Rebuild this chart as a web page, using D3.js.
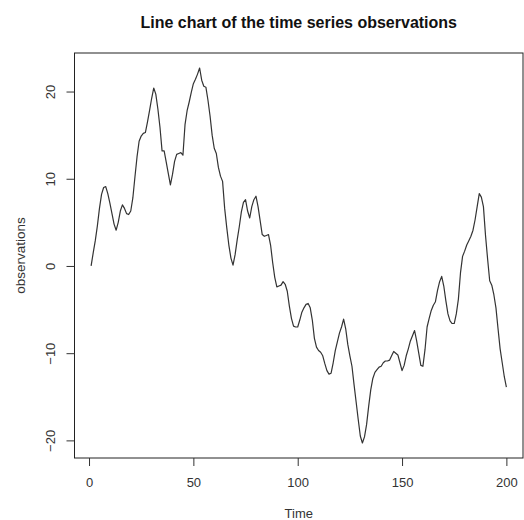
<!DOCTYPE html>
<html lang="en">

<head>
  <meta charset="utf-8">
  <title>Line chart of the time series observations</title>
  <script type="text/javascript" src="https://cdn.jsdelivr.net/npm/d3@7"></script>
  <style type="text/css">
    body { margin: 0; background: #fff; }
    text { font-family: "Liberation Sans", Arial, sans-serif; }
  </style>
</head>

<body>
  <script type="text/javascript">
    // Observations, t = 1..200
    const observations = [
      0.0, 1.5, 2.9, 4.6, 6.6, 8.2, 9.0, 9.1, 8.3, 7.2,
      6.0, 4.8, 4.1, 5.0, 6.3, 7.0, 6.6, 6.0, 5.9, 6.3,
      7.8, 10.2, 12.5, 14.3, 14.9, 15.2, 15.3, 16.5, 17.8, 19.2,
      20.4, 19.7, 18.0, 15.9, 13.2, 13.2, 11.9, 10.6, 9.3, 10.5,
      12.0, 12.8, 12.9, 13.0, 12.7, 16.2, 17.8, 18.8, 19.9, 20.9,
      21.4, 22.0, 22.7, 21.3, 20.6, 20.5, 19.0, 17.2, 15.0, 13.5,
      12.9, 11.3, 10.3, 9.7, 6.6, 4.4, 2.4, 0.9, 0.1, 1.3,
      3.0, 4.5, 6.2, 7.3, 7.6, 6.3, 5.5, 6.8, 7.6, 8.0,
      6.8, 5.2, 3.6, 3.4, 3.5, 3.6, 2.4, 0.4, -1.3, -2.4,
      -2.3, -2.2, -1.8, -2.1, -2.9, -4.6, -6.0, -6.9, -7.0, -7.0,
      -6.2, -5.3, -4.8, -4.4, -4.3, -4.8, -6.2, -8.3, -9.3, -9.7,
      -9.9, -10.3, -11.2, -12.0, -12.4, -12.3, -11.1, -9.7, -8.7, -7.7,
      -7.0, -6.1, -7.2, -9.0, -10.3, -11.5, -13.6, -15.6, -17.6, -19.5,
      -20.3, -19.6, -18.2, -16.1, -14.2, -12.9, -12.2, -11.9, -11.6, -11.5,
      -11.1, -10.9, -10.9, -10.8, -10.3, -9.8, -10.0, -10.2, -11.1, -12.0,
      -11.4, -10.3, -9.5, -8.6, -8.0, -7.4, -8.6, -10.0, -11.4, -11.5,
      -9.6, -7.0, -6.0, -5.1, -4.5, -4.1, -2.8, -1.8, -1.2, -2.3,
      -4.0, -5.5, -6.3, -6.6, -6.6, -5.5, -3.8, -0.8, 1.1, 1.7,
      2.4, 2.9, 3.4, 4.1, 5.3, 6.8, 8.3, 7.9, 6.8, 3.5,
      0.8, -1.7, -2.2, -3.3, -4.8, -7.2, -9.5, -11.1, -12.7, -13.9
    ];
    const xTicks = [0, 50, 100, 150, 200];
    const yTicks = [-20, -10, 0, 10, 20];

    const w = 524;
    const h = 520;

    // plot region (like R's par mar)
    const plotLeft = 74.5, plotRight = 523, plotTop = 53, plotBottom = 458;

    const data = observations.map(function (v, i) {
      return {t: i + 1, v: v};
    });

    // R pads the data range by 4% on each side
    const tExt = d3.extent(data, d => d.t);
    const vExt = d3.extent(data, d => d.v);
    const tPad = (tExt[1] - tExt[0]) * 0.04;
    const vPad = (vExt[1] - vExt[0]) * 0.04;

    const xScale = d3.scaleLinear()
      .domain([tExt[0] - tPad, tExt[1] + tPad])
      .range([plotLeft, plotRight]);

    const yScale = d3.scaleLinear()
      .domain([vExt[0] - vPad, vExt[1] + vPad])
      .range([plotBottom, plotTop]);

    const svg = d3.select("body")
      .append("svg")
      .attr("width", w)
      .attr("height", h);

    // the line
    const line = d3.line()
      .x(d => xScale(d.t))
      .y(d => yScale(d.v));

    svg.append("path")
      .datum(data)
      .attr("d", line)
      .attr("fill", "none")
      .attr("stroke", "#333")
      .attr("stroke-width", 1.2)
      .attr("stroke-linejoin", "round");

    // box round the plot
    svg.append("rect")
      .attr("x", plotLeft)
      .attr("y", plotTop)
      .attr("width", plotRight - plotLeft)
      .attr("height", plotBottom - plotTop)
      .attr("fill", "none")
      .attr("stroke", "#222")
      .attr("stroke-width", 1);

    // x axis
    const xAxis = svg.append("g")
      .attr("transform", "translate(0," + plotBottom + ")")
      .call(d3.axisBottom(xScale).tickValues(xTicks).tickSize(8).tickSizeOuter(0).tickPadding(12));
    xAxis.select(".domain").remove();
    xAxis.selectAll("line").attr("stroke", "#333");
    xAxis.selectAll("text")
      .attr("font-size", 13)
      .attr("font-family", "Liberation Sans, Arial, sans-serif")
      .attr("fill", "#333");

    // y axis, labels turned like R does
    const yAxis = svg.append("g")
      .attr("transform", "translate(" + plotLeft + ",0)")
      .call(d3.axisLeft(yScale).tickValues(yTicks).tickSize(8).tickSizeOuter(0));
    yAxis.select(".domain").remove();
    yAxis.selectAll("line").attr("stroke", "#333");
    yAxis.selectAll("text")
      .attr("x", null)
      .attr("dy", null)
      .attr("text-anchor", "middle")
      .attr("transform", "translate(-20,0) rotate(-90)")
      .attr("font-size", 13)
      .attr("font-family", "Liberation Sans, Arial, sans-serif")
      .attr("fill", "#333");

    // title and axis titles
    svg.append("text")
      .attr("x", (plotLeft + plotRight) / 2)
      .attr("y", 27.5)
      .attr("text-anchor", "middle")
      .attr("font-size", 16)
      .attr("font-weight", "bold")
      .attr("fill", "#111")
      .text("Line chart of the time series observations");

    svg.append("text")
      .attr("x", (plotLeft + plotRight) / 2)
      .attr("y", 518)
      .attr("text-anchor", "middle")
      .attr("font-size", 13)
      .attr("fill", "#333")
      .text("Time");

    svg.append("text")
      .attr("transform", "translate(25," + (plotTop + plotBottom) / 2 + ") rotate(-90)")
      .attr("text-anchor", "middle")
      .attr("font-size", 13.5)
      .attr("fill", "#333")
      .text("observations");
  </script>
</body>

</html>
